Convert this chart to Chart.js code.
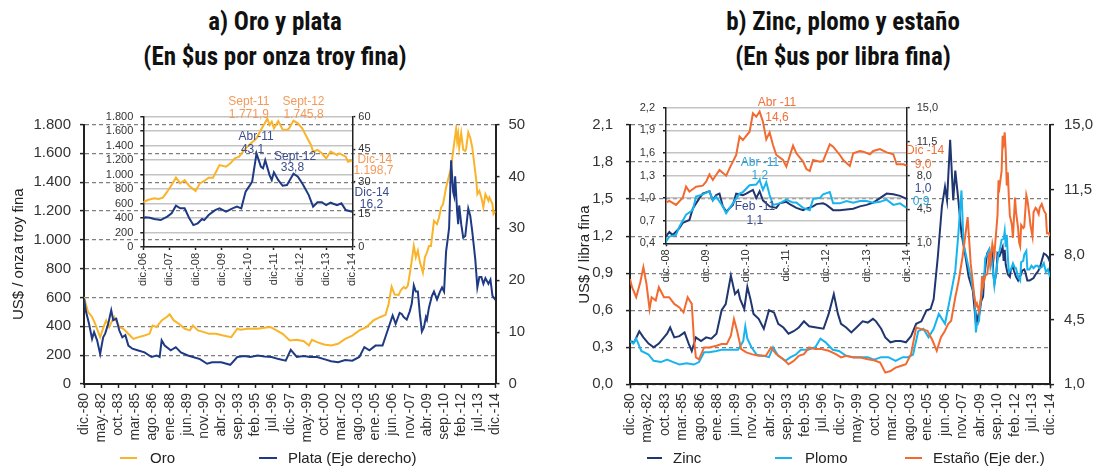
<!DOCTYPE html>
<html lang="es">
<head>
<meta charset="utf-8">
<title>Oro y plata; Zinc, plomo y estaño</title>
<script src="https://cdn.jsdelivr.net/npm/chart.js@4.4.1/dist/chart.umd.min.js"></script>
<style>
  html, body { margin: 0; padding: 0; background: #fff; }
  #lienzo { position: relative; width: 1093px; height: 467px; overflow: hidden; font-family: "Liberation Sans", Arial, sans-serif; }
  canvas { position: absolute; }
  .titulo { position: absolute; top: 4px; width: 546px; text-align: center; font-family: "Liberation Sans Narrow", "Roboto Condensed", "DejaVu Sans Condensed", sans-serif; font-weight: bold; font-size: 25px; line-height: 35px; color: #111; }
  .ley { position: absolute; top: 449px; font-size: 15px; line-height: 18px; color: #222; white-space: nowrap; }
  .muestra { position: absolute; top: 457px; height: 2px; }
</style>
</head>
<body>
<div id="lienzo">
  <div class="titulo" style="left:2px">a) Oro y plata<br>(En $us por onza troy fina)</div>
  <div class="titulo" style="left:570px">b) Zinc, plomo y estaño<br>(En $us por libra fina)</div>

  <canvas id="gOro" width="545" height="372" style="left:0;top:95px"></canvas>
  <canvas id="gMetales" width="548" height="372" style="left:545px;top:95px"></canvas>
  <canvas id="iOro" width="310" height="205" style="left:90px;top:90px"></canvas>
  <canvas id="iMetales" width="340" height="200" style="left:615px;top:90px"></canvas>

  <span class="muestra" style="left:120px;width:17px;background:#f9b42a"></span><span class="ley" style="left:150px">Oro</span>
  <span class="muestra" style="left:259px;width:18px;background:#1f3a84"></span><span class="ley" style="left:288px">Plata (Eje derecho)</span>
  <span class="muestra" style="left:647px;width:15px;background:#203670"></span><span class="ley" style="left:673px">Zinc</span>
  <span class="muestra" style="left:775px;width:17px;background:#17b4ee"></span><span class="ley" style="left:805px">Plomo</span>
  <span class="muestra" style="left:905px;width:17px;background:#f26a30"></span><span class="ley" style="left:933px">Estaño (Eje der.)</span>
</div>
<script>
// Meses contados desde dic-80 (0) hasta dic-14 (408)
const etiquetasX = ['dic.-80','may.-82','oct.-83','mar.-85','ago.-86','ene.-88','jun.-89','nov.-90','abr.-92','sep.-93','feb.-95','jul.-96','dic.-97','may.-99','oct.-00','mar.-02','ago.-03','ene.-05','jun.-06','nov.-07','abr.-09','sep.-10','feb.-12','jul.-13','dic.-14'];
const etiquetasIOro = ['dic.-06','dic.-07','dic.-08','dic.-09','dic.-10','dic.-11','dic.-12','dic.-13','dic.-14'];
const etiquetasIMetales = ['dic.-08','dic.-09','dic.-10','dic.-11','dic.-12','dic.-13','dic.-14'];

// Oro (US$/onza)
const mesesOroHist = [0,4,8,11,16,20,22,25,28,30,35,39,44,49,54,60,65,68,72,77,82,85,89,94,100,105,108,113,119,124,131,138,146,152,155,162,172,179,185,190,197,204,211,218,223,226,231,238,245,252,259,266,273,280,287,294,299,302,305,308];
const oroHist = [604,500,465,418,325,406,441,395,441,465,395,383,348,313,325,336,348,406,395,441,465,483,441,418,383,372,406,372,360,348,348,336,325,383,376,383,383,390,395,376,348,302,307,297,267,307,290,274,267,279,313,336,372,395,441,465,480,555,675,620];
const mesesOroRec = [312,314,317,319,321,323,325,327,329,331,333,336,338,340,342,344,347,350,352,354,356,359,361,364,366,369,370,371,372,374,376,378,379,381,383,385,387,389,390,392,394,396,398,401,402,405,406,408];
const oroRec = [617,649,672,663,681,764,856,958,879,925,847,773,879,912,958,958,1132,1109,1155,1224,1247,1363,1418,1501,1616,1772,1685,1731,1639,1740,1625,1616,1639,1746,1708,1639,1524,1409,1317,1340,1294,1225,1317,1271,1294,1248,1179,1199];

// Plata (US$/onza, eje derecho)
const mesesPlataHist = [0,2,5,8,10,13,16,19,21,24,27,29,32,35,38,41,44,48,53,60,67,72,75,77,80,86,91,96,103,108,115,122,127,136,145,152,159,165,172,179,186,193,200,205,211,218,224,231,238,245,252,259,266,273,278,283,289,296,301,306,309];
const plataHist = [16.5,13.9,11.6,8.7,10.0,8.4,5.8,9.0,9.7,11.6,14.2,12.3,12.6,10.3,9.0,9.4,7.4,6.8,6.5,6.1,5.2,5.5,5.2,8.4,7.4,6.5,7.1,6.1,5.5,5.2,4.8,3.9,4.2,4.2,3.7,5.2,5.4,5.2,5.5,5.3,5.2,4.8,4.5,6.6,5.2,5.4,5.2,5.2,4.8,4.4,4.2,4.6,4.5,5.2,7.1,6.5,7.4,7.4,10.3,13.2,11.6];
const mesesPlataRec = [312,313,315,317,320,323,325,327,329,331,333,335,337,339,340,342,345,347,350,353,355,357,359,361,362,364,366,367,368,370,371,372,374,376,378,381,383,385,388,390,392,394,396,398,401,403,405,408];
const plataRec = [13.2,13.7,13.5,12.9,12.4,14.0,15.5,19.0,17.8,17.8,13.5,10.1,10.9,12.9,12.4,14.7,17.0,17.8,16.3,17.8,18.6,17.8,25.5,28.5,30.1,43.1,37.0,36.2,40.0,33.1,30.8,34.4,30.8,28.2,28.5,33.8,32.4,29.3,23.9,18.6,20.6,20.6,19.3,20.4,19.3,20.1,17.0,16.2];

// Zinc (US$/libra)
const mesesZincHist = [0,4,9,13,18,23,28,33,36,39,43,48,53,57,60,64,69,74,79,84,89,93,98,102,105,107,111,114,117,120,125,130,135,140,144,149,154,159,164,169,174,181,188,193,198,202,205,210,215,220,226,231,236,239,244,248,253,258,263,268,273,278,283,288,292,295,299,303,306,308,311,314,316,319,322,325,329,333];
const zincHist = [0.35,0.34,0.43,0.38,0.33,0.30,0.33,0.38,0.41,0.46,0.38,0.39,0.42,0.33,0.27,0.38,0.35,0.38,0.37,0.41,0.60,0.65,0.88,0.73,0.76,0.69,0.61,0.79,0.69,0.57,0.53,0.45,0.60,0.58,0.49,0.46,0.41,0.43,0.46,0.51,0.47,0.46,0.45,0.57,0.73,0.57,0.49,0.46,0.42,0.46,0.51,0.50,0.53,0.51,0.45,0.38,0.34,0.35,0.35,0.34,0.39,0.49,0.51,0.60,0.61,0.69,1.03,1.44,1.60,1.49,1.98,1.49,1.73,1.49,1.22,1.08,0.87,0.76];
const mesesZincRec = [336,337,338,340,341,343,344,346,347,349,350,351,352,353,354,356,357,359,360,362,363,364,365,366,367,369,370,372,373,375,377,378,380,381,383,384,386,388,390,392,394,396,398,400,402,404,406,408];
const zincRec = [0.49,0.55,0.51,0.60,0.67,0.71,0.86,1.00,1.06,1.09,0.97,1.04,1.06,0.89,0.82,0.91,1.06,1.04,1.06,1.11,1.00,1.09,0.97,0.93,0.89,0.87,0.93,0.95,0.92,0.87,0.84,0.86,0.89,0.92,0.93,0.91,0.84,0.84,0.85,0.86,0.89,0.91,0.94,1.00,1.06,1.05,1.03,0.99];

// Plomo (US$/libra)
const mesesPlomoHist = [0,3,6,11,18,23,30,36,42,48,55,62,67,72,77,84,89,94,100,105,110,112,114,118,123,130,135,139,144,151,156,161,166,173,180,185,190,197,203,210,217,224,231,237,244,251,258,265,270,275,280,285,290,295,300,306,311,316,319,322,324,328,331,335];
const plomoHist = [0.35,0.33,0.37,0.27,0.24,0.19,0.18,0.20,0.18,0.16,0.17,0.16,0.18,0.26,0.26,0.27,0.28,0.28,0.28,0.28,0.35,0.47,0.37,0.30,0.24,0.23,0.22,0.30,0.23,0.19,0.22,0.24,0.28,0.28,0.30,0.37,0.34,0.28,0.27,0.23,0.22,0.22,0.22,0.20,0.22,0.22,0.19,0.22,0.22,0.24,0.43,0.45,0.38,0.45,0.57,0.49,0.70,0.92,1.22,1.57,1.14,0.98,0.87,0.68];
const mesesPlomoRec = [336,337,339,340,342,344,345,347,349,350,351,353,354,356,358,359,361,363,364,365,366,367,368,370,372,374,375,377,379,380,382,383,385,386,388,390,392,394,396,398,400,402,404,406,408];
const plomoRec = [0.42,0.49,0.51,0.62,0.78,0.84,1.02,1.05,1.09,0.97,1.02,0.89,0.80,0.93,1.06,1.08,1.17,1.18,1.24,1.11,1.21,1.04,0.91,0.93,0.98,0.94,0.94,0.87,0.84,0.99,1.00,1.05,1.08,0.93,0.93,0.96,0.94,0.96,0.96,0.94,0.95,0.98,0.91,0.93,0.87];

// Estaño (US$/libra, eje derecho)
const mesesEstanoHist = [0,2,6,10,13,16,19,21,25,28,33,38,43,48,52,56,60,62,64,67,72,77,84,89,94,98,101,104,108,113,118,125,132,137,142,149,154,159,164,169,174,180,186,193,200,205,210,217,224,231,237,243,248,253,258,263,268,273,278,283,289,294,298,302,306,309,312,316,319,323,328,331,335];
const estanoHist = [6.69,6.24,5.70,6.51,7.32,6.42,5.06,5.70,5.52,6.24,5.70,5.70,5.34,5.15,4.88,5.70,5.34,3.53,2.45,2.35,2.99,2.99,3.08,3.17,3.17,3.62,4.52,3.89,2.90,2.72,2.63,2.54,2.54,2.99,2.63,2.35,2.08,2.26,2.54,2.63,2.99,2.90,2.90,2.81,2.63,2.45,2.54,2.45,2.45,2.35,2.30,2.17,1.63,1.72,1.90,1.99,2.08,2.63,4.07,3.98,3.89,3.35,2.81,3.53,3.89,4.25,4.43,5.70,6.51,7.86,10.03,7.50,5.52];
const mesesEstanoRec = [336,337,339,341,342,343,345,347,348,349,350,352,354,355,357,358,359,361,362,363,364,365,366,367,368,369,371,372,374,375,377,378,379,380,382,383,385,386,388,389,391,392,394,395,397,398,400,402,404,405,407,408];
const estanoRec = [5.23,5.37,4.96,5.71,6.85,6.33,6.85,6.95,7.36,8.12,7.54,8.57,7.98,8.74,10.12,12.01,11.66,12.52,14.42,14.07,14.6,13.55,11.73,12.45,11.15,10.12,9.60,8.91,11.08,10.29,9.43,8.67,8.46,9.60,9.43,9.50,11.22,10.98,10.12,9.60,8.98,10.29,10.53,10.46,10.19,10.53,10.73,10.39,10.19,9.15,9.15,9.0];

// ---- estilos ----
const FUENTE = '"Liberation Sans", Arial, sans-serif';
const C_ORO = '#f9b42a', C_PLATA = '#1f3a84', C_ZINC = '#203670', C_PLOMO = '#17b4ee', C_ESTANO = '#f26a30';

const puntos = (meses, valores) => meses.map((m, i) => ({ x: m, y: valores[i] }));
const fmtMiles = v => String(Math.round(v)).replace(/\B(?=(\d{3})+(?!\d))/g, '.');
const fmtDec = v => Number(v).toFixed(1).replace('.', ',');

function serie(label, datos, color, eje) {
  return { label, data: datos, borderColor: color, backgroundColor: color, borderWidth: 2,
           pointRadius: 0, tension: 0, yAxisID: eje };
}

function ejeY(o) {
  return {
    type: 'linear', position: o.pos, min: o.min, max: o.max,
    afterFit: s => { s.width = o.ancho; },
    ticks: { stepSize: o.paso, autoSkip: false, color: '#333', padding: o.pad,
             font: { family: FUENTE, size: o.tam }, callback: o.fmt },
    grid: { display: true, drawOnChartArea: !!o.rejilla, color: o.colorRejilla || '#808080',
            lineWidth: o.anchoRejilla || 1.2, tickLength: o.marca, tickColor: '#222', tickWidth: 1.5,
            tickBorderDash: [] },
    border: { display: true, color: '#222', width: o.borde, dash: o.dash || [] },
    title: o.titulo ? { display: true, text: o.titulo, color: '#222',
                        font: { family: FUENTE, size: 15 }, padding: { top: o.padTitulo, bottom: 0 } }
                    : { display: false }
  };
}

function ejeX(o) {
  return {
    type: 'linear', position: 'bottom', min: o.min, max: o.max,
    afterFit: s => { s.height = o.alto; },
    ticks: { stepSize: o.paso, autoSkip: false, maxRotation: 90, minRotation: 90, color: '#333',
             padding: o.pad, font: { family: FUENTE, size: o.tam },
             callback: v => o.etiquetas[Math.round((v - o.min) / o.paso)] },
    grid: { display: true, drawOnChartArea: false, tickLength: o.marca, tickColor: '#222', tickWidth: 1.5 },
    border: { display: true, color: '#222', width: o.borde }
  };
}

function anotaciones(lista) {
  return {
    id: 'anotaciones',
    afterDraw(chart) {
      const ctx = chart.ctx, sx = chart.scales.x, sy = chart.scales.y;
      ctx.save();
      ctx.font = '12px ' + FUENTE;
      ctx.textAlign = 'center';
      ctx.textBaseline = 'middle';
      lista.forEach(a => {
        ctx.fillStyle = a.c;
        ctx.fillText(a.t, sx.getPixelForValue(a.x), sy.getPixelForValue(a.y));
      });
      ctx.restore();
    }
  };
}

const comunes = { responsive: false, animation: false, devicePixelRatio: 1,
                  plugins: { legend: { display: false }, tooltip: { enabled: false } } };

// ---- a) Oro y plata ----
new Chart(document.getElementById('gOro'), {
  type: 'line',
  data: { datasets: [
    serie('Plata (Eje derecho)', puntos(mesesPlataHist.concat(mesesPlataRec), plataHist.concat(plataRec)), C_PLATA, 'y1'),
    serie('Oro', puntos(mesesOroHist.concat(mesesOroRec), oroHist.concat(oroRec)), C_ORO, 'y')
  ] },
  options: { ...comunes, layout: { padding: { top: 29.5, left: 0, right: 0, bottom: 0 } },
    scales: {
      x: ejeX({ min: 0, max: 408, paso: 17, etiquetas: etiquetasX, alto: 83, tam: 14, pad: 5, marca: 4, borde: 2 }),
      y: ejeY({ pos: 'left', min: 0, max: 1800, paso: 200, fmt: fmtMiles, ancho: 84, tam: 15, pad: 9, marca: 4,
                borde: 2, rejilla: true, dash: [4, 3], titulo: 'US$ / onza troy fina', padTitulo: 10 }),
      y1: ejeY({ pos: 'right', min: 0, max: 50, paso: 10, fmt: v => String(v), ancho: 49.5, tam: 15, pad: 9, marca: 4, borde: 2 })
    } }
});

// ---- b) Zinc, plomo y estaño ----
new Chart(document.getElementById('gMetales'), {
  type: 'line',
  data: { datasets: [
    serie('Estaño (Eje der.)', puntos(mesesEstanoHist.concat(mesesEstanoRec), estanoHist.concat(estanoRec)), C_ESTANO, 'y1'),
    serie('Plomo', puntos(mesesPlomoHist.concat(mesesPlomoRec), plomoHist.concat(plomoRec)), C_PLOMO, 'y'),
    serie('Zinc', puntos(mesesZincHist.concat(mesesZincRec), zincHist.concat(zincRec)), C_ZINC, 'y')
  ] },
  options: { ...comunes, layout: { padding: { top: 30, left: 0, right: 0, bottom: 0 } },
    scales: {
      x: ejeX({ min: 0, max: 408, paso: 17, etiquetas: etiquetasX, alto: 82.7, tam: 14, pad: 5, marca: 4, borde: 2 }),
      y: ejeY({ pos: 'left', min: 0, max: 2.1, paso: 0.3, fmt: fmtDec, ancho: 85, tam: 15, pad: 13, marca: 4,
                borde: 2, rejilla: true, dash: [4, 3], titulo: 'US$ / libra fina', padTitulo: 31 }),
      y1: ejeY({ pos: 'right', min: 1, max: 15, paso: 3.5, fmt: fmtDec, ancho: 43, tam: 15, pad: 10, marca: 4, borde: 2 })
    } }
});

// ---- recuadro oro y plata ----
new Chart(document.getElementById('iOro'), {
  type: 'line',
  data: { datasets: [
    serie('Plata', puntos(mesesPlataRec, plataRec), C_PLATA, 'y1'),
    serie('Oro', puntos(mesesOroRec, oroRec), C_ORO, 'y')
  ] },
  options: { ...comunes, layout: { padding: { top: 26.7, left: 0, right: 0, bottom: 0 } },
    scales: {
      x: ejeX({ min: 312, max: 408, paso: 12, etiquetas: etiquetasIOro, alto: 48, tam: 11, pad: 3, marca: 3, borde: 1.5 }),
      y: ejeY({ pos: 'left', min: 0, max: 1800, paso: 200, fmt: fmtMiles, ancho: 53.3, tam: 11, pad: 7, marca: 3,
                borde: 1.5, rejilla: true, colorRejilla: '#c4c4c4', anchoRejilla: 1.5 }),
      y1: ejeY({ pos: 'right', min: 0, max: 60, paso: 15, fmt: v => String(v), ancho: 47.7, tam: 11, pad: 3, marca: 3, borde: 1.5 })
    } },
  plugins: [anotaciones([
    { t: 'Sept-11', x: 360.5, y: 2003, c: '#f39a5a' }, { t: '1.771,9', x: 360.5, y: 1823, c: '#f39a5a' },
    { t: 'Sept-12', x: 385.6, y: 2003, c: '#f39a5a' }, { t: '1.745,8', x: 385.6, y: 1823, c: '#f39a5a' },
    { t: 'Abr-11', x: 363.8, y: 1524, c: '#3d4c8e' }, { t: '43,1', x: 362.2, y: 1340, c: '#3d4c8e' },
    { t: 'Sept-12', x: 381.7, y: 1247, c: '#3d4c8e' }, { t: '33,8', x: 380.5, y: 1091, c: '#3d4c8e' },
    { t: 'Dic-14', x: 418.4, y: 1202, c: '#f39a5a' }, { t: '1.198,7', x: 417.7, y: 1050, c: '#f39a5a' },
    { t: 'Dic-14', x: 417, y: 750, c: '#3d4c8e' }, { t: '16,2', x: 416.8, y: 580, c: '#3d4c8e' }
  ])]
});

// ---- recuadro zinc, plomo y estaño ----
new Chart(document.getElementById('iMetales'), {
  type: 'line',
  data: { datasets: [
    serie('Estaño', puntos(mesesEstanoRec, estanoRec), C_ESTANO, 'y1'),
    serie('Plomo', puntos(mesesPlomoRec, plomoRec), C_PLOMO, 'y'),
    serie('Zinc', puntos(mesesZincRec, zincRec), C_ZINC, 'y')
  ] },
  options: { ...comunes, layout: { padding: { top: 17.7, left: 0, right: 0, bottom: 0 } },
    scales: {
      x: ejeX({ min: 336, max: 408, paso: 12, etiquetas: etiquetasIMetales, alto: 46.7, tam: 11, pad: 3, marca: 3, borde: 1.5 }),
      y: ejeY({ pos: 'left', min: 0.4, max: 2.2, paso: 0.3, fmt: fmtDec, ancho: 51, tam: 11, pad: 8, marca: 3,
                borde: 1.5, rejilla: true, colorRejilla: '#c4c4c4', anchoRejilla: 1.5 }),
      y1: ejeY({ pos: 'right', min: 1, max: 15, paso: 3.5, fmt: fmtDec, ancho: 48.3, tam: 11, pad: 7, marca: 3, borde: 1.5 })
    } },
  plugins: [anotaciones([
    { t: 'Abr -11', x: 369.2, y: 2.262, c: '#f07038' }, { t: '14,6', x: 369.2, y: 2.067, c: '#f07038' },
    { t: 'Abr -11', x: 364.1, y: 1.470, c: '#2ea3dc' }, { t: '1,2', x: 364.1, y: 1.293, c: '#2ea3dc' },
    { t: 'Feb -11', x: 362.6, y: 0.886, c: '#3a4a8a' }, { t: '1,1', x: 362.6, y: 0.700, c: '#3a4a8a' },
    { t: 'Dic -14', x: 413.5, y: 1.625, c: '#f07038' }, { t: '9,0', x: 412.9, y: 1.439, c: '#f07038' },
    { t: '1,0', x: 412.9, y: 1.121, c: '#3a4a8a' }, { t: '0,9', x: 412.3, y: 0.952, c: '#2ea3dc' }
  ])]
});
</script>
</body>
</html>
